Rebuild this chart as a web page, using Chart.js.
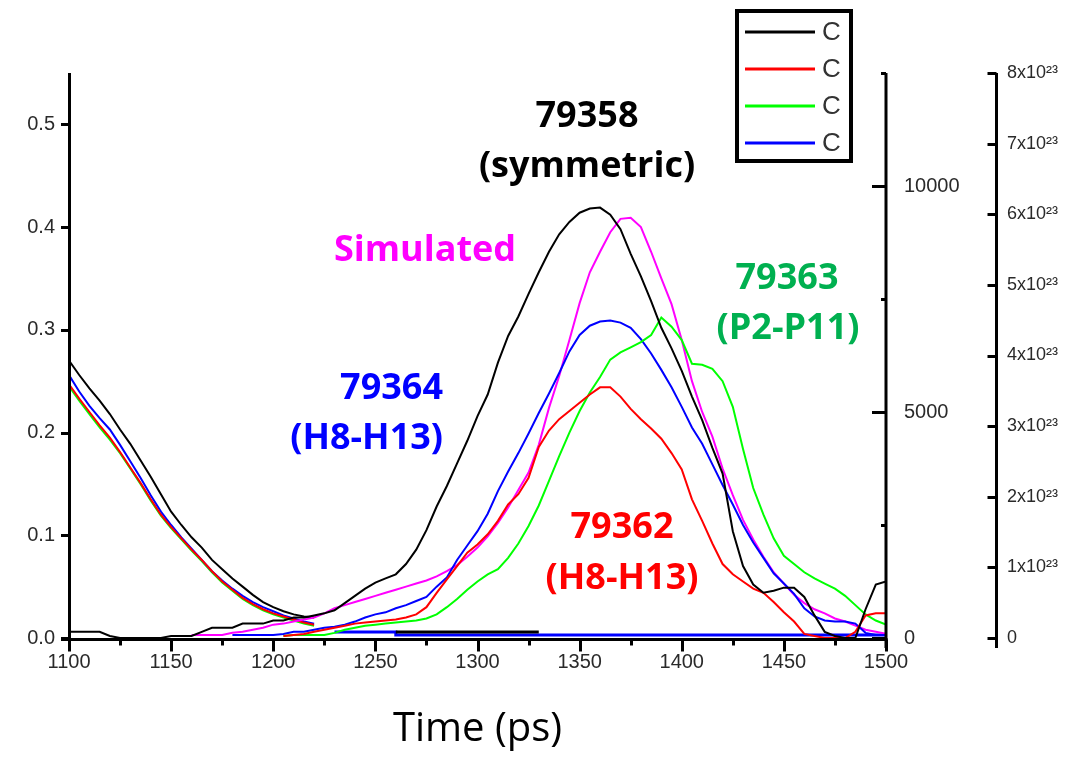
<!DOCTYPE html>
<html>
<head>
<meta charset="utf-8">
<title>Pulse profiles</title>
<script src="https://cdn.jsdelivr.net/npm/chart.js@4.4.1/dist/chart.umd.min.js"></script>
<style>
  html, body { margin: 0; padding: 0; background: #fff; }
  #wrap { width: 1075px; height: 757px; }
</style>
</head>
<body>
<div id="wrap"><canvas id="pulseChart" width="1075" height="757"></canvas></div>
<script>
// sample times (ps), 5 ps spacing
const sampleTimes = [
  1100, 1105, 1110, 1115, 1120, 1125, 1130, 1135, 1140, 1145,
  1150, 1155, 1160, 1165, 1170, 1175, 1180, 1185, 1190, 1195,
  1200, 1205, 1210, 1215, 1220, 1225, 1230, 1235, 1240, 1245,
  1250, 1255, 1260, 1265, 1270, 1275, 1280, 1285, 1290, 1295,
  1300, 1305, 1310, 1315, 1320, 1325, 1330, 1335, 1340, 1345,
  1350, 1355, 1360, 1365, 1370, 1375, 1380, 1385, 1390, 1395,
  1400, 1405, 1410, 1415, 1420, 1425, 1430, 1435, 1440, 1445,
  1450, 1455, 1460, 1465, 1470, 1475, 1480, 1485, 1490, 1495,
  1500
];

// main pulses (left axis)
const shot79358 = [
  0.006, 0.006, 0.006, 0.006, 0.002, 0, 0, 0, 0, 0,
  0.002, 0.002, 0.002, 0.006, 0.010, 0.010, 0.010, 0.014, 0.014, 0.014,
  0.017, 0.017, 0.020, 0.020, 0.022, 0.024, 0.027, 0.034, 0.041, 0.048,
  0.054, 0.058, 0.062, 0.072, 0.086, 0.105, 0.128, 0.148, 0.170, 0.192,
  0.216, 0.237, 0.268, 0.294, 0.313, 0.335, 0.356, 0.376, 0.393, 0.405,
  0.414, 0.418, 0.419, 0.412, 0.398, 0.374, 0.352, 0.328, 0.302, 0.282,
  0.260, 0.235, 0.212, 0.185, 0.160, 0.104, 0.070, 0.052, 0.044, 0.046,
  0.049, 0.049, 0.040, 0.022, 0.006, 0.002, 0, 0, 0.028, 0.052,
  0.055
];
const shot79362 = [
  null, null, null, null, null, null, null, null, null, null,
  null, null, null, null, null, null, null, null, null, null,
  null, 0.002, 0.003, 0.004, 0.006, 0.008, 0.010, 0.012, 0.014, 0.015,
  0.016, 0.017, 0.018, 0.020, 0.023, 0.030, 0.044, 0.057, 0.070, 0.083,
  0.091, 0.101, 0.114, 0.130, 0.140, 0.156, 0.186, 0.202, 0.213, 0.221,
  0.229, 0.237, 0.244, 0.244, 0.235, 0.223, 0.213, 0.204, 0.194, 0.180,
  0.164, 0.135, 0.114, 0.092, 0.072, 0.062, 0.055, 0.048, 0.044, 0.035,
  0.025, 0.016, 0.004, 0.002, 0, 0, 0, 0.006, 0.022, 0.024,
  0.024
];
const shot79363 = [
  null, null, null, null, null, null, null, null, null, null,
  null, null, null, null, null, null, null, null, null, null,
  null, 0.002, 0.003, 0.003, 0.003, 0.003, 0.005, 0.008, 0.010, 0.012,
  0.013, 0.014, 0.015, 0.016, 0.017, 0.019, 0.023, 0.030, 0.038, 0.047,
  0.055, 0.062, 0.067, 0.078, 0.092, 0.109, 0.129, 0.153, 0.177, 0.200,
  0.221, 0.239, 0.254, 0.271, 0.278, 0.283, 0.288, 0.295, 0.312, 0.303,
  0.290, 0.267, 0.266, 0.262, 0.250, 0.225, 0.184, 0.146, 0.120, 0.097,
  0.080, 0.072, 0.064, 0.058, 0.053, 0.048, 0.041, 0.032, 0.023, 0.017,
  0.013
];
const shot79364 = [
  null, null, null, null, null, null, null, null, null, null,
  null, null, null, null, null, null, 0.003, 0.003, 0.003, 0.003,
  0.003, 0.004, 0.006, 0.006, 0.008, 0.010, 0.011, 0.013, 0.016, 0.020,
  0.023, 0.025, 0.029, 0.032, 0.036, 0.040, 0.050, 0.059, 0.076, 0.090,
  0.104, 0.121, 0.143, 0.162, 0.180, 0.199, 0.219, 0.238, 0.258, 0.279,
  0.295, 0.304, 0.308, 0.309, 0.307, 0.302, 0.291, 0.277, 0.261, 0.244,
  0.225, 0.205, 0.189, 0.169, 0.149, 0.130, 0.110, 0.093, 0.078, 0.063,
  0.053, 0.043, 0.029, 0.021, 0.017, 0.016, 0.016, 0.014, 0.005, 0.003,
  0.003
];
const simulated = [
  null, null, null, null, null, null, null, null, null, null,
  null, null, 0.003, 0.003, 0.003, 0.003, 0.005, 0.006, 0.008, 0.010,
  0.013, 0.014, 0.016, 0.018, 0.020, 0.024, 0.029, 0.032, 0.035, 0.038,
  0.041, 0.044, 0.047, 0.050, 0.053, 0.056, 0.060, 0.065, 0.071, 0.079,
  0.088, 0.099, 0.112, 0.127, 0.144, 0.161, 0.188, 0.224, 0.255, 0.290,
  0.326, 0.356, 0.376, 0.395, 0.408, 0.409, 0.400, 0.376, 0.350, 0.325,
  0.290, 0.250, 0.220, 0.196, 0.165, 0.139, 0.115, 0.096, 0.079, 0.064,
  0.053, 0.042, 0.034, 0.028, 0.024, 0.019, 0.016, 0.012, 0.008, 0.006,
  0.004
];

// trailing edge of the previous pulse, 1100-1220 ps
const tailTimes = sampleTimes.slice(0, 25);
const tail79358 = [
  0.270, 0.256, 0.243, 0.231, 0.218, 0.203, 0.189, 0.173, 0.157, 0.140,
  0.123, 0.110, 0.098, 0.088, 0.076, 0.067, 0.058, 0.050, 0.042, 0.035,
  0.030, 0.026, 0.023, 0.021, 0.020
];
const tail79362 = [
  0.247, 0.233, 0.220, 0.207, 0.195, 0.181, 0.166, 0.151, 0.135, 0.120,
  0.108, 0.097, 0.086, 0.076, 0.065, 0.055, 0.047, 0.039, 0.033, 0.028,
  0.024, 0.021, 0.018, 0.015, 0.013
];
const tail79363 = [
  0.245, 0.231, 0.218, 0.205, 0.193, 0.180, 0.165, 0.150, 0.134, 0.119,
  0.107, 0.096, 0.085, 0.075, 0.064, 0.054, 0.046, 0.038, 0.032, 0.027,
  0.023, 0.020, 0.017, 0.014, 0.012
];
const tail79364 = [
  0.256, 0.240, 0.226, 0.214, 0.203, 0.188, 0.172, 0.156, 0.139, 0.123,
  0.110, 0.098, 0.087, 0.076, 0.065, 0.056, 0.048, 0.041, 0.035, 0.030,
  0.026, 0.022, 0.019, 0.016, 0.014
];

// baseline traces on the right-hand axes
const countTimes = [1260, 1330];
const countValues = [130, 130];
const fluxTimes = [1230, 1260, 1260, 1500];
const fluxValues = [0.085, 0.085, 0.042, 0.042];

// axis ticks
const timeTicks = [1100, 1150, 1200, 1250, 1300, 1350, 1400, 1450, 1500];
const timeMinorTicks = [1125, 1175, 1225, 1275, 1325, 1375, 1425, 1475];
const signalTicks = [0, 0.1, 0.2, 0.3, 0.4, 0.5];
const countTicks = [0, 5000, 10000];
const countMinorTicks = [2500, 7500, 12500];
const fluxTicks = [0, 1, 2, 3, 4, 5, 6, 7, 8];
const fluxExponent = '²³';

function points(xs, ys) {
  const out = [];
  xs.forEach(function(t, i) {
    if (ys[i] !== null) out.push({ x: t, y: ys[i] });
  });
  return out;
}

var tickFont = { family: 'Liberation Sans', size: 20 };
var tickColor = '#2a2a2a';

function trace(label, xs, ys, color, axis, inLegend, width) {
  return {
    label: label,
    data: points(xs, ys),
    borderColor: color,
    backgroundColor: color,
    borderWidth: width || 2,
    pointRadius: 0,
    tension: 0,
    fill: false,
    yAxisID: axis,
    inLegend: inLegend
  };
}

// axis lines and tick marks, drawn over the traces
var axisFrame = {
  id: 'axisFrame',
  afterDatasetsDraw: function(chart) {
    var ctx = chart.ctx;
    var area = chart.chartArea;
    var s = chart.scales;
    ctx.save();
    ctx.strokeStyle = '#000';
    ctx.lineCap = 'butt';
    ctx.lineWidth = 3;

    var seg = function(x1, y1, x2, y2) {
      ctx.beginPath();
      ctx.moveTo(x1, y1);
      ctx.lineTo(x2, y2);
      ctx.stroke();
    };

    var bottomY = area.bottom + 1.5;
    seg(area.left - 8, bottomY, area.right + 1.5, bottomY);
    seg(area.left + 0.5, area.top, area.left + 0.5, area.bottom + 11);
    seg(area.right, area.top, area.right, area.bottom + 10);
    var y2x = s.y2.left + 0.5;
    seg(y2x, area.top, y2x, area.bottom + 10);

    timeTicks.forEach(function(v) {
      var px = Math.round(s.x.getPixelForValue(v)) + 0.5;
      seg(px, bottomY, px, bottomY + 12);
    });
    timeMinorTicks.forEach(function(v) {
      var px = Math.round(s.x.getPixelForValue(v)) + 0.5;
      seg(px, bottomY, px, bottomY + 6);
    });
    signalTicks.forEach(function(v) {
      var py = Math.round(s.y.getPixelForValue(v)) + 0.5;
      seg(area.left - 8, py, area.left, py);
    });
    countTicks.forEach(function(v) {
      var py = Math.round(s.y1.getPixelForValue(v)) + 0.5;
      seg(area.right - 14, py, area.right, py);
    });
    countMinorTicks.forEach(function(v) {
      var py = Math.round(s.y1.getPixelForValue(v)) + 0.5;
      seg(area.right - 5, py, area.right, py);
    });
    fluxTicks.forEach(function(v) {
      var py = Math.round(s.y2.getPixelForValue(v)) + 0.5;
      seg(y2x - 9, py, y2x, py);
    });
    ctx.restore();
  }
};

// shot labels placed next to their curves
var shotLabels = {
  id: 'shotLabels',
  afterDatasetsDraw: function(chart) {
    var ctx = chart.ctx;
    ctx.save();
    ctx.font = 'bold 36px "Open Sans"';
    ctx.textBaseline = 'alphabetic';
    var put = function(text, x, y, color, align) {
      ctx.fillStyle = color;
      ctx.textAlign = align || 'center';
      ctx.fillText(text, x, y);
    };
    put('79358', 587, 127, '#000000');
    put('(symmetric)', 587, 177, '#000000');
    put('Simulated', 425, 261, '#ff00ff');
    put('79363', 787, 289, '#00b050');
    put('(P2-P11)', 788, 339, '#00b050');
    put('79364', 443, 399, '#0000ff', 'right');
    put('(H8-H13)', 443, 449, '#0000ff', 'right');
    put('79362', 622, 538, '#ff0000');
    put('(H8-H13)', 622, 589, '#ff0000');
    ctx.restore();
  }
};

// boxed legend in the top right corner
var legendBox = {
  id: 'legendBox',
  afterDraw: function(chart) {
    var ctx = chart.ctx;
    var items = chart.data.datasets.filter(function(d) { return d.inLegend; });
    ctx.save();
    ctx.fillStyle = '#fff';
    ctx.fillRect(737, 11, 114, 150);
    ctx.strokeStyle = '#000';
    ctx.lineWidth = 4;
    ctx.strokeRect(737, 11, 114, 150);
    ctx.font = '26px "Liberation Sans"';
    ctx.textBaseline = 'middle';
    ctx.textAlign = 'left';
    items.forEach(function(d, i) {
      var yy = 32 + i * 37;
      ctx.strokeStyle = d.borderColor;
      ctx.lineWidth = 3;
      ctx.beginPath();
      ctx.moveTo(745, yy);
      ctx.lineTo(815, yy);
      ctx.stroke();
      ctx.fillStyle = '#333';
      ctx.fillText(d.label, 822, yy + 1);
    });
    ctx.restore();
  }
};

var plainNumber = function(v) { return String(v); };

var context = document.getElementById('pulseChart').getContext('2d');
var pulseChart = new Chart(context, {
  type: 'line',
  data: {
    datasets: [
      trace('C', sampleTimes, shot79358, '#000000', 'y', true),
      trace('C', sampleTimes, shot79362, '#ff0000', 'y', true),
      trace('C', sampleTimes, shot79363, '#00ff00', 'y', true),
      trace('C', sampleTimes, shot79364, '#0000ff', 'y', true),
      trace('Simulated', sampleTimes, simulated, '#ff00ff', 'y', false),
      trace('79358 tail', tailTimes, tail79358, '#000000', 'y', false),
      trace('79362 tail', tailTimes, tail79362, '#ff0000', 'y', false),
      trace('79364 tail', tailTimes, tail79364, '#0000ff', 'y', false),
      trace('79363 tail', tailTimes, tail79363, '#00ff00', 'y', false),
      trace('counts', countTimes, countValues, '#000000', 'y1', false, 3),
      trace('flux', fluxTimes, fluxValues, '#0000ff', 'y2', false, 3)
    ]
  },
  options: {
    responsive: false,
    devicePixelRatio: 1,
    animation: false,
    layout: { padding: { top: 73, left: 0, right: 0, bottom: 0 } },
    plugins: {
      legend: { display: false },
      tooltip: { enabled: false }
    },
    scales: {
      x: {
        type: 'linear',
        position: 'bottom',
        min: 1100,
        max: 1500,
        grid: { display: false, drawTicks: false },
        border: { display: false },
        ticks: { font: tickFont, color: tickColor, padding: 12, maxRotation: 0, callback: plainNumber },
        afterBuildTicks: function(axis) {
          axis.ticks = timeTicks.map(function(v) { return { value: v }; });
        },
        afterFit: function(axis) { axis.height = 119; },
        title: {
          display: true,
          text: 'Time (ps)',
          color: '#000',
          font: { family: 'Open Sans', size: 40 },
          padding: { top: 0, bottom: 3 }
        }
      },
      y: {
        type: 'linear',
        position: 'left',
        min: 0,
        max: 0.55,
        grid: { display: false, drawTicks: false },
        border: { display: false },
        ticks: {
          font: tickFont, color: tickColor, padding: 14,
          callback: function(v) { return v.toFixed(1); }
        },
        afterBuildTicks: function(axis) {
          axis.ticks = signalTicks.map(function(v) { return { value: v }; });
        },
        afterFit: function(axis) { axis.width = 69; }
      },
      y1: {
        type: 'linear',
        position: 'right',
        weight: 0,
        min: 0,
        max: 12500,
        grid: { display: false, drawTicks: false },
        border: { display: false },
        ticks: { font: tickFont, color: tickColor, padding: 18, callback: plainNumber },
        afterBuildTicks: function(axis) {
          axis.ticks = countTicks.map(function(v) { return { value: v }; });
        },
        afterFit: function(axis) { axis.width = 110; }
      },
      y2: {
        type: 'linear',
        position: 'right',
        weight: 1,
        min: 0,
        max: 8,
        grid: { display: false, drawTicks: false },
        border: { display: false },
        ticks: {
          font: { family: 'Liberation Sans', size: 18 }, color: tickColor, padding: 11,
          callback: function(v) { return v === 0 ? '0' : v + 'x10' + fluxExponent; }
        },
        afterBuildTicks: function(axis) {
          axis.ticks = fluxTicks.map(function(v) { return { value: v }; });
        },
        afterFit: function(axis) { axis.width = 79; }
      }
    }
  },
  plugins: [axisFrame, shotLabels, legendBox]
});
</script>
</body>
</html>
